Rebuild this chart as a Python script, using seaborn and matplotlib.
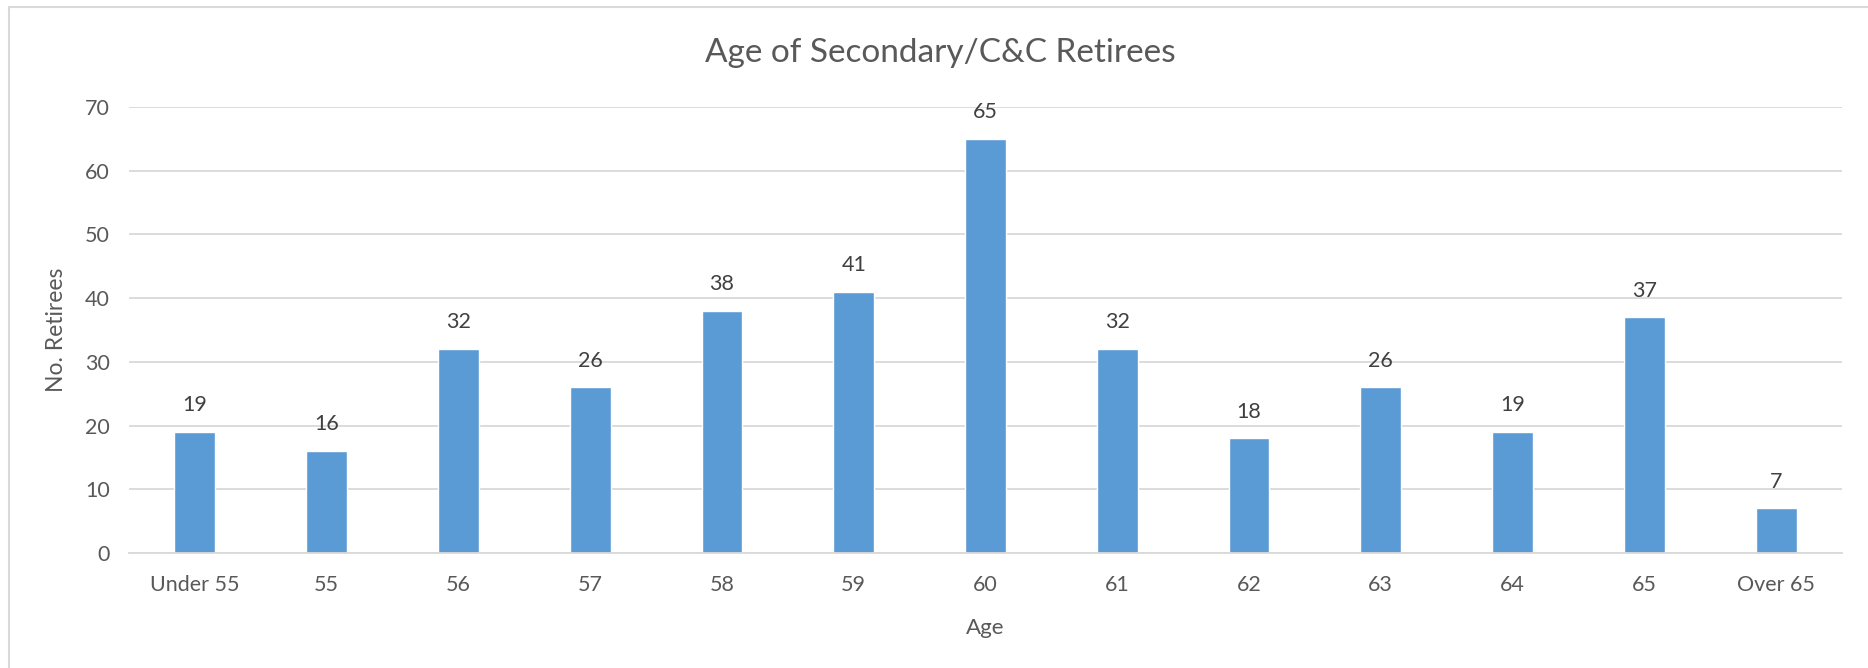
import matplotlib
matplotlib.use('Agg')
import matplotlib.pyplot as plt
from matplotlib.lines import Line2D
import pandas as pd
import seaborn as sns

# data
ages = ['Under 55', '55', '56', '57', '58', '59', '60', '61', '62', '63', '64', '65', 'Over 65']
retirees = [19, 16, 32, 26, 38, 41, 65, 32, 18, 26, 19, 37, 7]
yticks = [0, 10, 20, 30, 40, 50, 60, 70]

df = pd.DataFrame({'Age': ages, 'No. Retirees': retirees})

sns.set_style('white')
plt.rcParams['font.family'] = ['Lato', 'DejaVu Sans']

W, H = 1868, 668
fig = plt.figure(figsize=(W/100, H/100), dpi=100)
ax = fig.add_axes([129/W, 1-553/H, (1842-129)/W, (553-107)/H])

sns.barplot(data=df, x='Age', y='No. Retirees', color='#5B9BD5', saturation=1,
            width=0.31, ax=ax)

ax.set_ylim(0, 70)
ax.set_xlim(-0.5, len(ages)-0.5)
ax.set_yticks(yticks)
ax.yaxis.grid(True, color='#D9D9D9', linewidth=1.3)
ax.set_axisbelow(True)
for s in ['top', 'right', 'left']:
    ax.spines[s].set_visible(False)
ax.spines['bottom'].set_color('#D9D9D9')
ax.spines['bottom'].set_linewidth(1.3)
ax.tick_params(axis='both', length=0, labelsize=15.5, labelcolor='#595959')
ax.tick_params(axis='x', pad=16)
ax.tick_params(axis='y', pad=14)

for c in ax.containers:
    ax.bar_label(c, padding=12, fontsize=15.5, color='#404040')

ax.set_xlabel('Age', fontsize=16, color='#595959')
ax.xaxis.set_label_coords(0.5, -(618-553)/(553-107))
ax.set_ylabel('No. Retirees', fontsize=16.5, color='#595959')
ax.yaxis.set_label_coords((67-129)/(1842-129), 0.5)

fig.text(940/W, 1-53/H, 'Age of Secondary/C&C Retirees', ha='center', va='center',
         fontsize=24, color='#595959')

# chart area border (only top and left are visible in the crop)
fig.add_artist(Line2D([8.5/W, 1], [1-7/H, 1-7/H], color='#D9D9D9', lw=1.5, transform=fig.transFigure))
fig.add_artist(Line2D([8.5/W, 8.5/W], [0, 1-7/H], color='#D9D9D9', lw=1.5, transform=fig.transFigure))

fig.savefig('out.png', dpi=100, facecolor='white')
